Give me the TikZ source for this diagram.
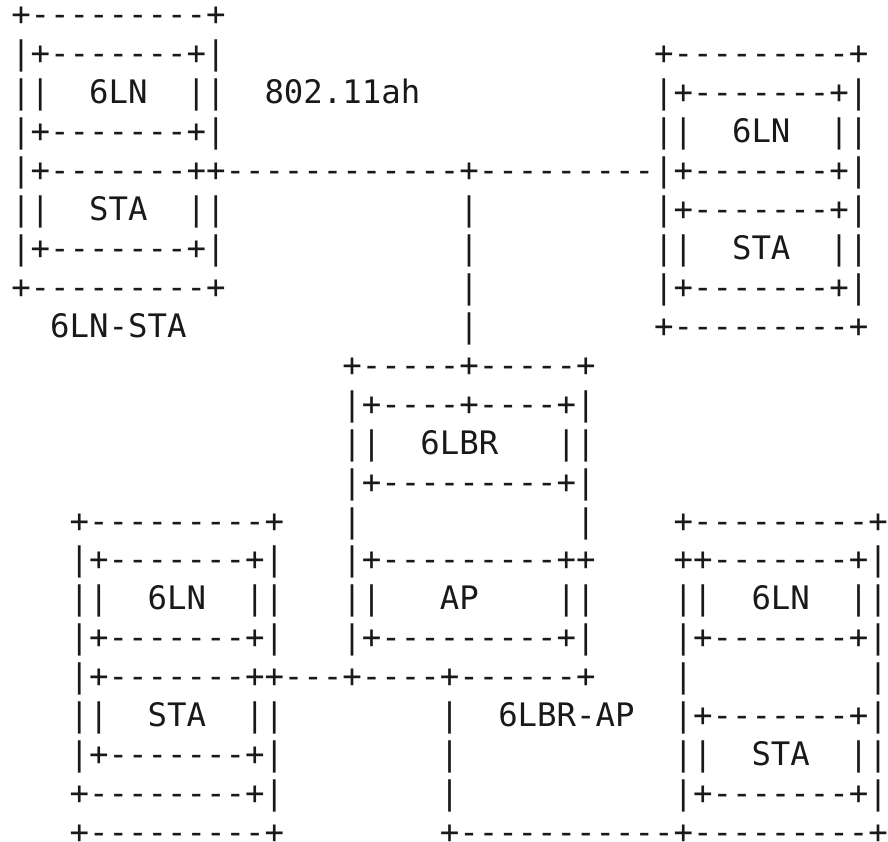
\documentclass[tikz,border=0pt]{standalone}
\usepackage{fontspec}
\setmonofont{DejaVu Sans Mono}
\usepackage{tikz}
\usepackage{xcolor}

\tikzset{ascii/.style={anchor=base west, inner sep=0pt, outer sep=0pt, text=black!90, font=\ttfamily\fontsize{24.27pt}{29pt}\selectfont}}

\begin{document}
\begin{tikzpicture}[x=14.61pt, y=-29.21pt] % ein Schritt = ein Zeichen bzw. eine Zeile

\useasboundingbox (0,0) rectangle (45.585,21.617); % Rand wie im Original

% Zeile/Spalte/Text
\foreach \r/\c/\txt in {
  0/0/+---------+,
  1/0/|+-------+|, 1/33/+---------+,
  2/0/||~~6LN~~||~~802.11ah, 2/33/|+-------+|,
  3/0/|+-------+|, 3/33/||~~6LN~~||,
  4/0/|+-------++------------+---------|+-------+|,
  5/0/||~~STA~~||, 5/23/|, 5/33/|+-------+|,
  6/0/|+-------+|, 6/23/|, 6/33/||~~STA~~||,
  7/0/+---------+, 7/23/|, 7/33/|+-------+|,
  8/2/6LN-STA, 8/23/|, 8/33/+---------+,
  9/17/+-----+-----+,
  10/17/|+----+----+|,
  11/17/||~~6LBR~~~||,
  12/17/|+---------+|,
  13/3/+---------+, 13/17/|, 13/29/|, 13/34/+---------+,
  14/3/|+-------+|, 14/17/|+---------++, 14/34/++-------+|,
  15/3/||~~6LN~~||, 15/17/||~~~AP~~~~||, 15/34/||~~6LN~~||,
  16/3/|+-------+|, 16/17/|+---------+|, 16/34/|+-------+|,
  17/3/|+-------++---+----+------+, 17/34/|, 17/44/|,
  18/3/||~~STA~~||, 18/22/|~~6LBR-AP~~|+-------+|,
  19/3/|+-------+|, 19/22/|, 19/34/||~~STA~~||,
  20/3/+--------+|, 20/22/|, 20/34/|+-------+|,
  21/3/+---------+, 21/22/+-----------+---------+} {
  \node[ascii] (z\r-\c) at (\c+0.578, \r+0.66) {\txt};
}

\end{tikzpicture}
\end{document}
